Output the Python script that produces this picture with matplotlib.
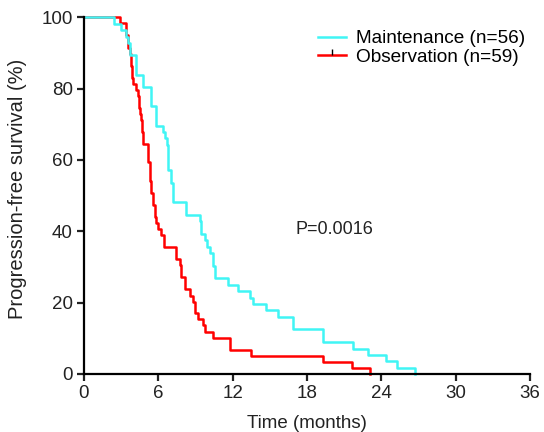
import matplotlib.pyplot as plt
from matplotlib.lines import Line2D

plt.rcParams['font.family'] = ['Liberation Sans', 'DejaVu Sans']

# Kaplan-Meier steps (time in months, survival in %)
maint_t = [0, 2.42, 3.0, 3.42, 3.55, 3.7, 4.18, 4.77, 5.39, 5.8, 6.38, 6.55,
           6.7, 6.75, 6.78, 7.06, 7.15, 7.19, 8.27, 9.35, 9.45, 9.48, 9.75,
           9.9, 10.15, 10.4, 10.45, 10.56, 10.6, 11.63, 12.44, 13.38, 13.65,
           14.73, 15.67, 16.88, 19.3, 21.73, 22.9, 24.4, 25.3, 26.7]
maint_s = [100, 98.2, 96.4, 94.6, 92.9, 89.3, 83.9, 80.4, 75.0, 69.6, 67.9,
           66.1, 64.3, 60.7, 57.1, 53.6, 51.8, 48.2, 44.6, 42.9, 41.1, 39.3,
           37.5, 35.7, 33.9, 32.1, 30.4, 28.6, 26.8, 25.0, 23.2, 21.4, 19.6,
           17.9, 16.1, 12.5, 8.9, 7.1, 5.4, 3.6, 1.8, 0]

obs_t = [0, 2.9, 3.4, 3.55, 3.7, 3.8, 3.85, 3.96, 4.18, 4.36, 4.45, 4.5,
         4.63, 4.7, 4.77, 5.15, 5.2, 5.3, 5.35, 5.4, 5.6, 5.72, 5.85, 5.98,
         6.25, 6.45, 7.45, 7.72, 7.87, 8.13, 8.54, 8.8, 8.94, 9.21, 9.61,
         9.75, 10.42, 11.77, 13.5, 19.3, 21.6, 23.1]
obs_s = [100, 98.3, 94.9, 91.5, 89.8, 86.4, 83.1, 81.4, 79.7, 77.9, 74.6,
         72.9, 71.2, 67.8, 64.4, 61.0, 59.3, 55.9, 54.2, 50.8, 47.5, 44.1,
         42.4, 40.7, 39.0, 35.6, 32.2, 30.5, 27.1, 23.7, 22.0, 20.3, 17.0,
         15.3, 13.6, 11.9, 10.2, 6.8, 5.1, 3.4, 1.7, 0]

labels = ["Maintenance (n=56)", "Observation (n=59)"]
xticks = [0, 6, 12, 18, 24, 30, 36]
yticks = [0, 20, 40, 60, 80, 100]

cyan = "#40F5F5"
red = "#FF0000"
txt = "#222222"

fig = plt.figure(figsize=(5.44, 4.32), dpi=100)
ax = fig.add_axes([0.1544, 0.1343, 0.8196, 0.8257])

ax.step(obs_t, obs_s, where="post", color=red, lw=1.8, clip_on=False)
ax.step(maint_t, maint_s, where="post", color=cyan, lw=1.8, clip_on=False)

ax.set_xlim(0, 36)
ax.set_ylim(0, 100)
ax.set_xticks(xticks)
ax.set_yticks(yticks)
for s in ["top", "right"]:
    ax.spines[s].set_visible(False)
for s in ["left", "bottom"]:
    ax.spines[s].set_linewidth(1.6)
ax.tick_params(direction="out", length=5, width=1.6, labelsize=13.5,
               colors=txt, pad=3)

ax.set_xlabel("Time (months)", fontsize=13.5, labelpad=9, color=txt)
ax.set_ylabel("Progression-free survival (%)", fontsize=14.5, color=txt)
ax.yaxis.set_label_coords(-0.128, 0.52)

ax.text(17.1, 40.4, "P=0.0016", fontsize=13, va="center", color=txt)

handles = [Line2D([], [], color=cyan, lw=1.8),
           Line2D([], [], color=red, lw=1.8, marker=2, markersize=4,
                  markeredgecolor="black", markeredgewidth=1)]
ax.legend(handles, labels, loc="upper left", bbox_to_anchor=(0.525, 0.964),
          frameon=False, fontsize=13.7, handlelength=1.45, handletextpad=0.55,
          labelspacing=0.05, borderaxespad=0, borderpad=0)

fig.savefig("out.png", dpi=100)
